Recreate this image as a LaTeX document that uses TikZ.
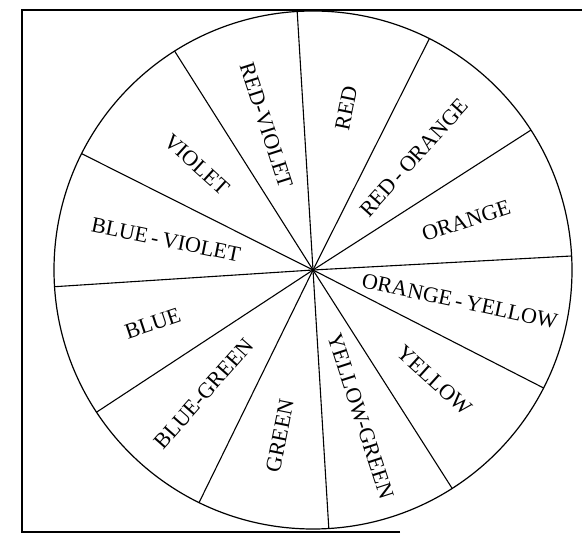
\documentclass[tikz,border=0pt]{standalone}
\usepackage{fontspec}
\setmainfont{Liberation Serif}
\begin{document}
\begin{tikzpicture}[x=1pt,y=1pt,
  rim/.style={line width=1.2pt},
  spoke/.style={line width=1.1pt},
  frameline/.style={line width=2.5pt},
  lab/.style={font=\fontsize{22}{22}\selectfont, inner sep=0pt}]
\useasboundingbox (0,0) rectangle (582,535);
% frame (open on the right)
\coordinate (fbr) at (400,3);
\coordinate (fbl) at (22,3);
\coordinate (ftl) at (22,525);
\coordinate (ftr) at (582,525);
\draw[frameline] (fbr) -- (fbl) -- (ftl) -- (ftr);
% wheel
\coordinate (c) at (313,265);
\draw[rim] (c) circle (259);
\foreach \n/\a in {1/93.5,2/63.3,3/32.7,4/3.1,5/-27.1,6/-57.5,7/-86.5,8/-116.1,9/-146.7,10/-176.3,11/153.3,12/122.3}
  \path (c) ++(\a:259) coordinate (s\n);
\foreach \n in {1,...,12} \draw[spoke] (c) -- (s\n);
% labels
\path (c) ++(78.4:165)  node[lab, rotate=78.4]  (red) {RED};
\path (c) ++(48:151)    node[lab, rotate=48]    (redorange) {RED\,-\,ORANGE};
\path (c) ++(17.9:161)  node[lab, rotate=17.9]  (orange) {ORANGE};
\path (c) ++(-12:150)   node[lab, rotate=-12]   (orangeyellow) {ORANGE\,-\,YELLOW};
\path (c) ++(-42.3:164) node[lab, rotate=-42.3] (yellow) {YELLOW};
\path (c) ++(-72:154)   node[lab, rotate=-72]   (yellowgreen) {YELLOW-GREEN};
\path (c) ++(-101.3:169) node[lab, rotate=78.7] (green) {GREEN};
\path (c) ++(-131.4:165) node[lab, rotate=48.6] (bluegreen) {BLUE-GREEN};
\path (c) ++(198.5:169) node[lab, rotate=18.5]  (blue) {BLUE};
\path (c) ++(168.5:150) node[lab, rotate=-11.5] (blueviolet) {BLUE\,-\,VIOLET};
\path (c) ++(137.8:157) node[lab, rotate=-42.2] (violet) {VIOLET};
\path (c) ++(107.9:152) node[lab, rotate=-72.1] (redviolet) {RED-VIOLET};
\end{tikzpicture}
\end{document}
